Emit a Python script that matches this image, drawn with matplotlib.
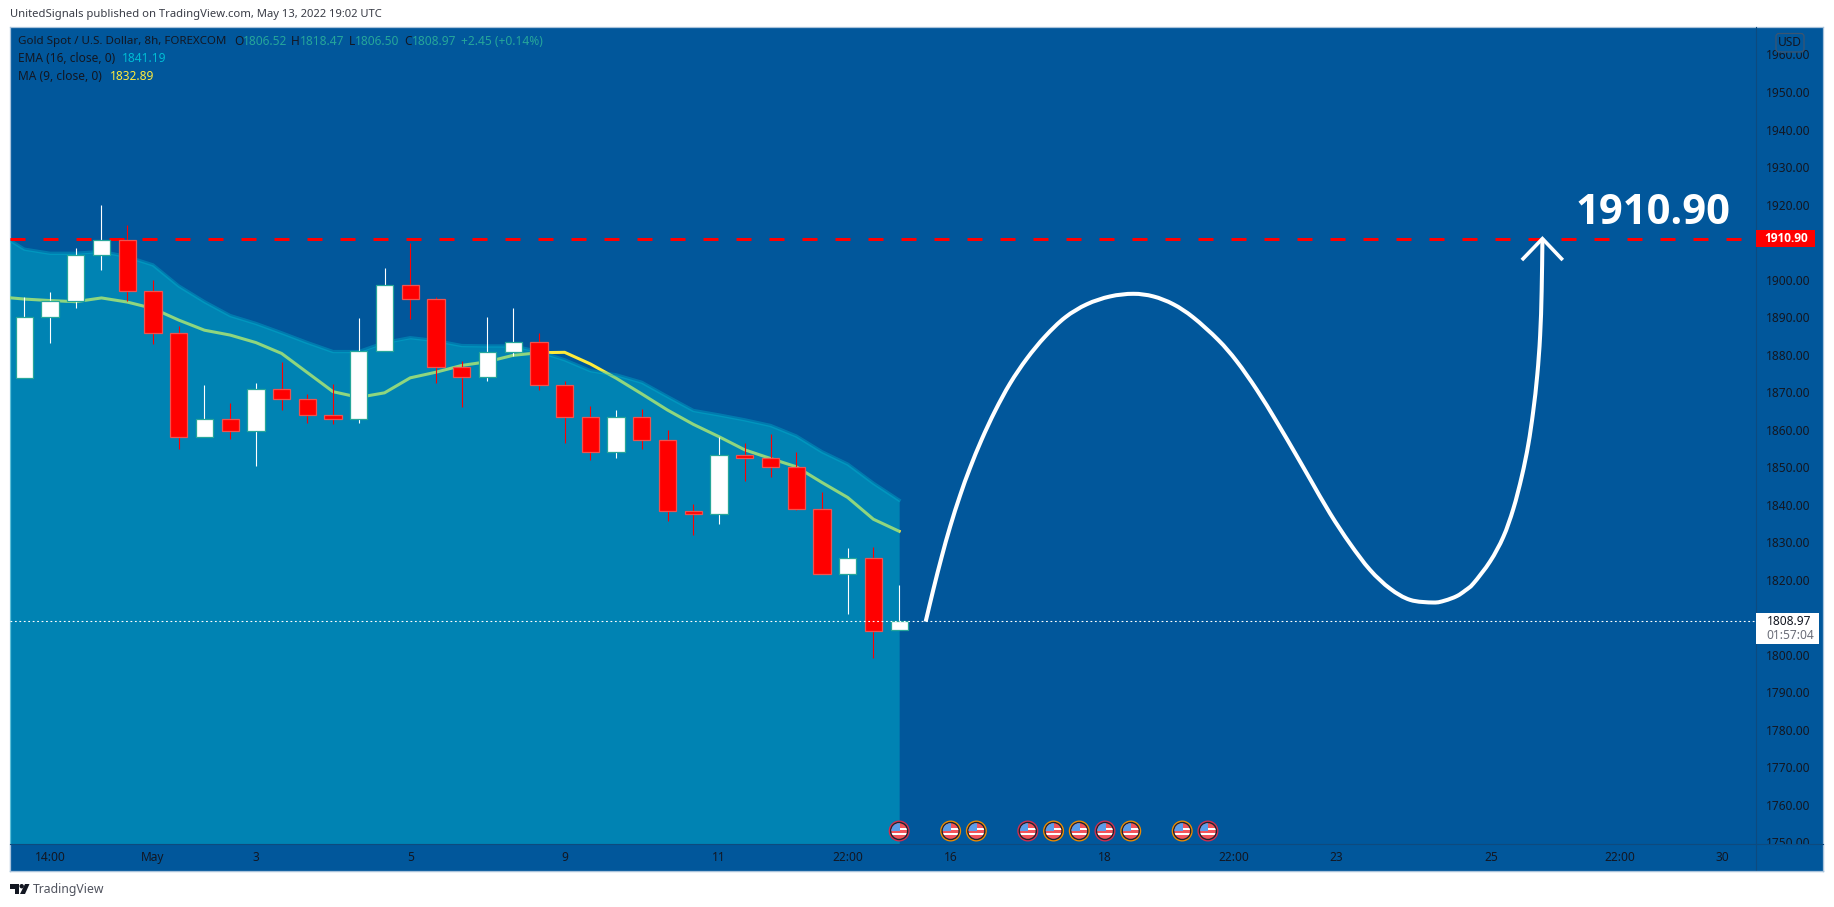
import numpy as np
import matplotlib
matplotlib.use("agg")
import matplotlib.pyplot as plt
from matplotlib.path import Path
from matplotlib.patches import PathPatch, Rectangle, Circle, Polygon, FancyBboxPatch

plt.rcParams['font.family'] = ['Noto Sans', 'DejaVu Sans']

# candles
opens = [1873.7, 1890.1, 1894.4, 1906.6, 1910.6, 1896.9, 1885.7, 1857.9, 1862.9, 1859.5,
         1870.9, 1868.1, 1863.8, 1862.7, 1881.0, 1898.6, 1894.7, 1876.8, 1873.9, 1880.8,
         1883.3, 1871.8, 1863.3, 1853.9, 1863.3, 1857.1, 1838.2, 1837.6, 1853.1, 1852.3,
         1850.0, 1838.9, 1821.4, 1825.7, 1806.52]
closes = [1890.1, 1894.4, 1906.6, 1910.6, 1896.9, 1885.7, 1857.9, 1862.9, 1859.5, 1870.9,
          1868.1, 1863.8, 1862.7, 1881.0, 1898.6, 1894.7, 1876.8, 1873.9, 1880.8, 1883.3,
          1871.8, 1863.3, 1853.9, 1863.3, 1857.1, 1838.2, 1837.6, 1853.1, 1852.3, 1850.0,
          1838.9, 1821.4, 1825.7, 1806.3, 1808.97]
highs = [1895.3, 1896.6, 1908.3, 1919.9, 1914.5, 1899.9, 1887.6, 1871.8, 1867.0, 1872.3,
         1878.0, 1869.4, 1872.1, 1889.7, 1903.2, 1909.7, 1895.3, 1878.3, 1889.9, 1892.3,
         1885.7, 1872.9, 1866.3, 1865.1, 1865.4, 1859.8, 1840.1, 1857.9, 1856.3, 1858.8,
         1854.0, 1843.3, 1828.3, 1828.6, 1818.47]
lows = [1873.7, 1883.2, 1892.5, 1902.5, 1894.3, 1882.9, 1854.7, 1857.9, 1857.5, 1850.4,
        1865.2, 1861.7, 1861.5, 1861.8, 1881.0, 1889.5, 1872.5, 1866.1, 1873.0, 1879.7,
        1870.6, 1856.3, 1852.0, 1852.3, 1854.8, 1835.5, 1832.0, 1834.9, 1846.3, 1847.4,
        1838.6, 1821.4, 1810.8, 1799.2, 1806.5]

# indicators, first value belongs to the bar left of the window
ema16 = [1912.3, 1908.1, 1907.0, 1907.0, 1907.5, 1906.1, 1903.9, 1898.3, 1894.1, 1890.4,
         1888.3, 1885.8, 1883.2, 1880.8, 1880.8, 1883.2, 1884.5, 1883.7, 1882.4, 1882.3,
         1882.3, 1880.8, 1878.6, 1875.7, 1874.6, 1872.6, 1868.8, 1865.1, 1863.9, 1862.6,
         1861.1, 1858.3, 1854.1, 1850.8, 1845.7, 1841.19]
ma9 = [1895.4, 1894.8, 1894.4, 1894.1, 1895.1, 1894.0, 1892.3, 1889.2, 1886.5, 1885.2,
       1883.2, 1880.3, 1875.2, 1870.1, 1868.6, 1869.8, 1873.8, 1875.3, 1877.1, 1878.1,
       1879.8, 1880.5, 1880.6, 1877.5, 1873.7, 1869.5, 1865.2, 1861.4, 1858.1, 1854.6,
       1852.3, 1850.1, 1845.9, 1841.9, 1836.1, 1832.89]

# hand drawn forecast curve
curve_x = [35.03, 35.33, 35.65, 35.98, 36.37, 36.75, 37.21, 37.73, 38.31, 38.96, 39.67, 40.45,
           41.29, 42.20, 43.10, 43.88, 44.66, 45.43, 46.40, 47.12, 47.90, 48.67, 49.45, 49.97,
           50.75, 51.52, 52.30, 53.08, 53.86, 54.76, 55.20, 55.67, 56.00, 56.32, 56.97, 57.48,
           57.87, 58.20, 58.45, 58.64, 58.80, 58.91, 58.97, 59.0]
curve_y = [1808.8, 1817.4, 1826.0, 1834.1, 1842.5, 1849.7, 1857.4, 1865.0, 1872.3, 1878.9, 1884.8,
           1889.9, 1893.4, 1895.5, 1896.2, 1895.5, 1893.4, 1889.9, 1883.9, 1878.2, 1870.6, 1862.1,
           1853.0, 1846.8, 1837.6, 1829.6, 1822.6, 1817.6, 1814.6, 1813.9, 1814.4, 1815.6, 1817.1,
           1819.0, 1824.9, 1831.4, 1838.9, 1847.6, 1856.0, 1864.8, 1874.6, 1885.0, 1897.0, 1910.9]
head_x = [58.20, 59.0, 59.79]
head_y = [1905.2, 1910.9, 1905.2]

target = 1910.90
last_price = 1808.97

price_ticks = list(range(1750, 1970, 10))
time_ticks = [1, 5, 9, 15, 21, 27, 32, 36, 42, 47, 51, 57, 62, 66]
time_labels = ["14:00", "May", "3", "5", "9", "11", "22:00", "16", "18", "22:00", "23", "25", "22:00", "30"]

# economic events under the chart
event_bars = [34, 36, 37, 39, 40, 41, 42, 43, 45, 46]
event_cols = ["r", "o", "o", "r", "o", "o", "r", "o", "o", "r"]

BG = "#01579B"
DARK = "#131722"
SEP = "#0E4A7E"
TXT = 8.6

W, H = 1834, 907
fig = plt.figure(figsize=(W/100, H/100), dpi=100, facecolor="white")


def box(x0, y0, x1, y1):
    return [x0/W, 1-y1/H, (x1-x0)/W, (y1-y0)/H]


def ftext(x, y, s, color=DARK, size=TXT, ha="left", **kw):
    fig.text(x/W, 1-y/H, s, color=color, fontsize=size, ha=ha, va="center", **kw)


# panel behind everything
panel = fig.add_axes(box(10, 27, 1823, 871), facecolor=BG, zorder=0)
panel.set_xticks([])
panel.set_yticks([])
for s in panel.spines.values():
    s.set_color("#A9C3DB")
    s.set_linewidth(0.9)

# main price axes, 1810 and 1910 sit under the price tags
ax = fig.add_axes(box(10, 27, 1756, 844), facecolor="none", zorder=1)
ax.set_xlim(-0.5558, 67.30)
ax.set_ylim(1749.52, 1967.33)
ax.set_xticks([])
ax.yaxis.tick_right()
ax.set_yticks(price_ticks)
ax.set_yticklabels(["" if p in (1810, 1910) else "%.2f" % p for p in price_ticks])
ax.tick_params(axis="y", length=0, pad=7.5, labelsize=TXT, labelcolor=DARK)
for s in ["top", "left", "bottom"]:
    ax.spines[s].set_visible(False)
ax.spines["right"].set_color(SEP)
ax.spines["right"].set_linewidth(0.8)

ind_x = np.arange(-1, 35)
ax.plot(ind_x, ma9, color="#FFEB3B", lw=2.2, zorder=1, solid_joinstyle="round")
ax.fill_between(ind_x, ema16, 1700, color="#00BCD4", alpha=0.44, lw=0, zorder=1.5)
ax.plot(ind_x, ema16, color="#00BCD4", alpha=0.35, lw=2.4, zorder=1.6)

ax.axhline(target, color="#FF0000", lw=2.16, ls=(0, (5, 6)), dash_capstyle="butt", zorder=2)

bars = np.arange(len(opens))
o = np.array(opens)
c = np.array(closes)
up = c >= o
ax.vlines(bars[up], np.array(lows)[up], np.array(highs)[up], color="white", lw=0.8, zorder=3)
ax.vlines(bars[~up], np.array(lows)[~up], np.array(highs)[~up], color="#FF0000", lw=0.8, zorder=3)
ax.bar(bars[up], (c-o)[up], bottom=o[up], width=0.67, color="white", edgecolor="#26A69A", lw=0.9, zorder=3.1)
ax.bar(bars[~up], (o-c)[~up], bottom=c[~up], width=0.67, color="#FF0000", edgecolor="#EF5350", lw=0.9, zorder=3.1)

ax.axhline(last_price, color="white", lw=0.8, ls=(0, (1.6, 2.4)), zorder=4)

# forecast curve, bezier pieces through the read points
pts = np.column_stack([curve_x, curve_y])
tang = np.gradient(pts, axis=0)
verts = [pts[0]]
codes = [Path.MOVETO]
for k in range(len(pts)-1):
    verts += [pts[k]+tang[k]/3, pts[k+1]-tang[k+1]/3, pts[k+1]]
    codes += [Path.CURVE4, Path.CURVE4, Path.CURVE4]
ax.add_patch(PathPatch(Path(verts, codes), fill=False, edgecolor="white", lw=2.9, capstyle="butt", zorder=5))
ax.plot(head_x, head_y, color="white", lw=2.6, solid_joinstyle="miter", solid_capstyle="butt", zorder=5)

ax.text(63.3, 1914.8, "1910.90", color="white", fontsize=30, family="Open Sans", fontweight="bold",
        ha="center", va="baseline", zorder=6)

# time axis strip
ax_t = fig.add_axes(box(10, 844, 1823, 871), facecolor=BG, zorder=2)
ax_t.set_xlim(-0.5558, 69.91)
ax_t.set_ylim(0, 1)
ax_t.set_yticks([])
ax_t.set_xticks(time_ticks)
ax_t.set_xticklabels(time_labels)
ax_t.tick_params(axis="x", length=0, pad=-14.5, labelsize=TXT, labelcolor=DARK)
ax_t.axvline(67.30, color=SEP, lw=0.8)
for s in ["left", "right", "bottom"]:
    ax_t.spines[s].set_color("#A9C3DB")
    ax_t.spines[s].set_linewidth(0.9)
ax_t.spines["top"].set_color(SEP)
ax_t.spines["top"].set_linewidth(0.8)

# overlay in pixels for the labels and the little flags
ov = fig.add_axes([0, 0, 1, 1], facecolor="none", zorder=5)
ov.set_xlim(0, W)
ov.set_ylim(H, 0)
ov.axis("off")


def py(p):
    return H-ax.transData.transform((0, p))[1]


def px(i):
    return ax.transData.transform((i, 0))[0]


yt = py(target)
ov.add_patch(Rectangle((1756, yt-8.5), 59, 17, fc="#FF0000", ec="none"))
ov.text(1786, yt, "%.2f" % target, color="white", fontsize=TXT, family="Open Sans", fontweight="bold",
        ha="center", va="center")

yl = py(last_price)
ov.add_patch(Rectangle((1756, yl-8), 63, 30.5, fc="white", ec="none"))
ov.text(1767, yl, "%.2f" % last_price, color=DARK, fontsize=TXT, ha="left", va="center")
ov.text(1766, yl+14.5, "01:57:04", color="#6A6D78", fontsize=TXT, ha="left", va="center")

ov.add_patch(FancyBboxPatch((1778, 35.5), 24, 14.5, boxstyle="round,pad=2,rounding_size=3", fc=BG, ec="#3C5570", lw=0.9))
ov.text(1790, 42.5, "USD", color=DARK, fontsize=TXT, ha="center", va="center")

for i, col in zip(event_bars, event_cols):
    x = px(i)
    y = 831
    ring = "#D32F4F" if col == "r" else "#F08C00"
    ov.add_patch(Circle((x, y), 10.5, fc=ring, ec="none"))
    ov.add_patch(Circle((x, y), 9.2, fc="#1E2530", ec="none"))
    disc = Circle((x, y), 7.8, fc="#F2545B", ec="none")
    ov.add_patch(disc)
    for r in [Rectangle((x-9, y+1.5), 18, 2.6, fc="white", ec="none"),
              Rectangle((x, y-3.5), 9, 2, fc="white", ec="none"),
              Rectangle((x-9, y-9), 9.5, 9, fc="#5A9EEA", ec="none")]:
        ov.add_patch(r)
        r.set_clip_path(disc)

# logo at the bottom
ov.add_patch(Polygon([(10, 884), (19, 884), (19, 894), (14.5, 894), (14.5, 888.5), (10, 888.5)], fc=DARK, ec="none"))
ov.add_patch(Circle((21.7, 886.2), 2.2, fc=DARK, ec="none"))
ov.add_patch(Polygon([(25, 884), (29.5, 884), (25, 894), (20, 894)], fc=DARK, ec="none"))
ftext(33, 889, "TradingView", color="#50535E", size=8.8)

ftext(10, 14.5, "UnitedSignals published on TradingView.com, May 13, 2022 19:02 UTC", color="#3A3D47", size=8.1)

# legend rows
TEAL = "#26A69A"
ftext(18, 41.5, "Gold Spot / U.S. Dollar, 8h, FOREXCOM", size=8.3)
for x, s in [(234, "O"), (291, "H"), (349, "L"), (404, "C")]:
    ftext(x, 41.5, s)
for x, s in [(243, "1806.52"), (300, "1818.47"), (355, "1806.50"), (412, "1808.97"), (461, "+2.45 (+0.14%)")]:
    ftext(x, 41.5, s, color=TEAL)
ftext(18, 59, "EMA (16, close, 0)")
ftext(122, 59, "1841.19", color="#00BCD4")
ftext(18, 76, "MA (9, close, 0)")
ftext(110, 76, "1832.89", color="#FFEB3B")

fig.savefig("out.png", dpi=100, facecolor="white")
plt.close(fig)
